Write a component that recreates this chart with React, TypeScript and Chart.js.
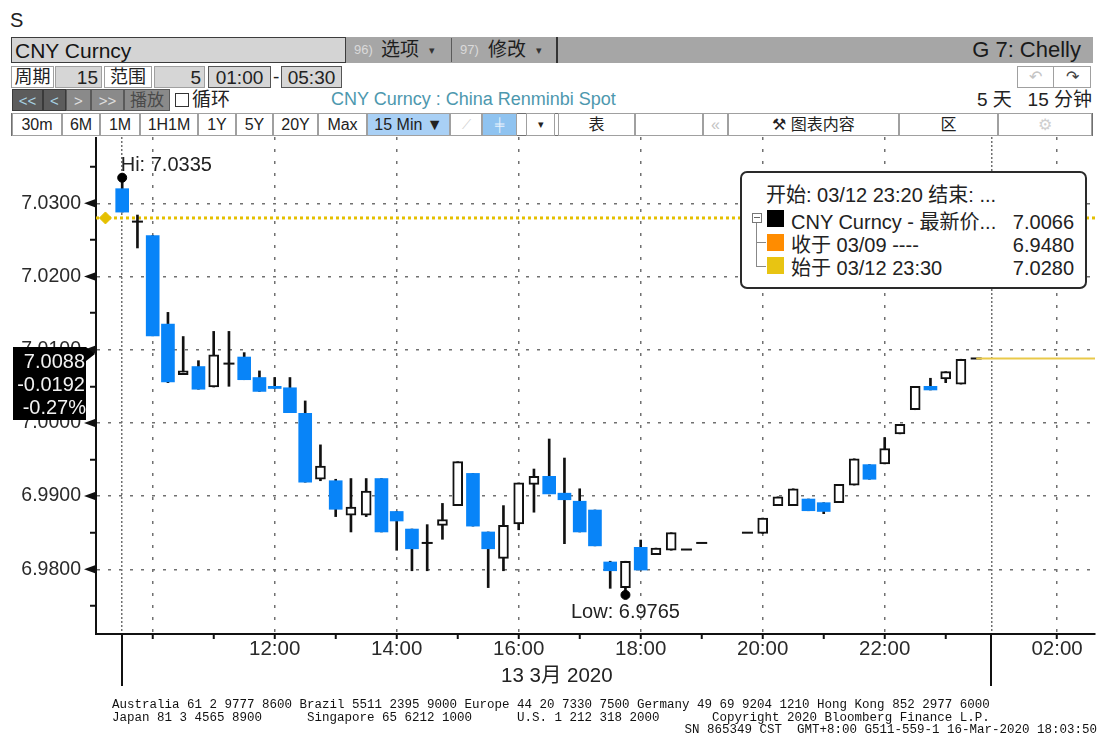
import React, { useEffect, useRef } from "react";
import { Chart, registerables } from "chart.js";

Chart.register(...registerables);

const FONT = '"Liberation Sans", "Noto Sans CJK SC", sans-serif';
const MONO = '"Liberation Mono", "DejaVu Sans Mono", monospace';

// ---- data: 15-minute bars, 13 Mar 2020 ----
const barTimes = [
  "09:30", "09:45", "10:00", "10:15", "10:30", "10:45", "11:00", "11:15", "11:30", "11:45",
  "12:00", "12:15", "12:30", "12:45", "13:00", "13:15", "13:30", "13:45", "14:00", "14:15",
  "14:30", "14:45", "15:00", "15:15", "15:30", "15:45", "16:00", "16:15", "16:30", "16:45",
  "17:00", "17:15", "17:30", "17:45", "18:00", "18:15", "18:30", "18:45", "19:00", "19:15",
  "19:30", "19:45", "20:00", "20:15", "20:30", "20:45", "21:00", "21:15", "21:30", "21:45",
  "22:00", "22:15", "22:30", "22:45", "23:00", "23:15", "23:30",
];
const opens = [
  7.0320, 7.0275, 7.0256, 7.0135, 7.0066, 7.0077, 7.0049, 7.0081, 7.0090, 7.0062,
  7.0050, 7.0048, 7.0013, 6.9923, 6.9921, 6.9874, 6.9874, 6.9924, 6.9879, 6.9855,
  6.9836, 6.9860, 6.9887, 6.9931, 6.9851, 6.9815, 6.9862, 6.9916, 6.9927, 6.9904,
  6.9893, 6.9881, 6.9810, 6.9775, 6.9830, 6.9820, 6.9826, 6.9827, 6.9836, null,
  null, 6.9850, 6.9849, 6.9887, 6.9887, 6.9896, 6.9891, 6.9891, 6.9915, 6.9943,
  6.9944, 6.9985, 7.0018, 7.0050, 7.0060, 7.0053, 7.0088,
];
const highs = [
  7.0335, 7.0284, 7.0256, 7.0151, 7.0118, 7.0085, 7.0125, 7.0125, 7.0096, 7.0071,
  7.0062, 7.0062, 7.0030, 6.9970, 6.9923, 6.9924, 6.9924, 6.9924, 6.9879, 6.9855,
  6.9861, 6.9890, 6.9947, 6.9931, 6.9851, 6.9887, 6.9918, 6.9937, 6.9978, 6.9952,
  6.9910, 6.9881, 6.9811, 6.9811, 6.9840, 6.9829, 6.9850, 6.9827, 6.9836, null,
  null, 6.9850, 6.9870, 6.9899, 6.9910, 6.9896, 6.9891, 6.9916, 6.9951, 6.9943,
  6.9980, 6.9998, 7.0050, 7.0061, 7.0070, 7.0087, 7.0088,
];
const lows = [
  7.0288, 7.0239, 7.0119, 7.0055, 7.0066, 7.0046, 7.0049, 7.0050, 7.0059, 7.0043,
  7.0047, 7.0014, 6.9919, 6.9921, 6.9872, 6.9851, 6.9872, 6.9851, 6.9826, 6.9798,
  6.9798, 6.9841, 6.9887, 6.9859, 6.9775, 6.9798, 6.9854, 6.9878, 6.9903, 6.9835,
  6.9851, 6.9832, 6.9774, 6.9765, 6.9799, 6.9820, 6.9826, 6.9827, 6.9836, null,
  null, 6.9850, 6.9849, 6.9887, 6.9887, 6.9880, 6.9876, 6.9891, 6.9915, 6.9923,
  6.9944, 6.9985, 7.0018, 7.0045, 7.0055, 7.0053, 7.0088,
];
const closes = [
  7.0288, 7.0275, 7.0119, 7.0056, 7.0071, 7.0046, 7.0093, 7.0081, 7.0059, 7.0043,
  7.0047, 7.0014, 6.9919, 6.9941, 6.9882, 6.9885, 6.9907, 6.9851, 6.9866, 6.9828,
  6.9836, 6.9868, 6.9947, 6.9859, 6.9828, 6.9860, 6.9918, 6.9927, 6.9903, 6.9895,
  6.9851, 6.9832, 6.9798, 6.9811, 6.9799, 6.9829, 6.9850, 6.9827, 6.9836, null,
  null, 6.9850, 6.9870, 6.9899, 6.9910, 6.9880, 6.9879, 6.9916, 6.9951, 6.9923,
  6.9965, 6.9998, 7.0050, 7.0045, 7.0070, 7.0087, 7.0088,
];

const HI_VALUE = 7.0335;
const HI_INDEX = 0;
const LOW_VALUE = 6.9765;
const LOW_INDEX = 33;
const START_PRICE = 7.028;
const LAST_PRICE = 7.0088;
const LAST_INDEX = 56;

// axis ticks
const yTickValues = [6.975, 6.98, 6.985, 6.99, 6.995, 7.0, 7.005, 7.01, 7.015, 7.02, 7.025, 7.03, 7.035];
const xTickValues = [0, 2, 6, 10, 14, 18, 22, 26, 30, 34, 38, 42, 46, 50, 54, 57, 61.3];
const xTickLabels = ["", "", "", "12:00", "", "14:00", "", "16:00", "", "18:00", "", "20:00", "", "22:00", "", "", "02:00"];
const xGridValues = [0, 2, 10, 18, 26, 34, 42, 50, 57, 61.3];
const sessionBreaks = [0, 57];
const dateLabel = "13 3月 2020";

const X_MIN = -1.718;
const X_MAX = 63.79;
const Y_MIN = 6.97116;
const Y_MAX = 7.03906;

const isMajor = (v: any) => v != null && Math.abs(Math.round(v * 100) - v * 100) < 1e-6;

const annotationPlugin = {
  id: "bbgAnnotations",
  afterDraw(chart: any) {
    const { ctx, chartArea: a } = chart;
    const xs = chart.scales.x;
    const ys = chart.scales.y;
    ctx.save();
    // axis arrows at labelled values
    ctx.fillStyle = "#111";
    yTickValues.filter(isMajor).forEach((v) => {
      const py = ys.getPixelForValue(v);
      ctx.beginPath();
      ctx.moveTo(a.left - 12, py);
      ctx.lineTo(a.left - 1, py - 4);
      ctx.lineTo(a.left - 1, py + 4);
      ctx.closePath();
      ctx.fill();
    });
    // session separators below axis
    ctx.strokeStyle = "#111";
    ctx.lineWidth = 2;
    sessionBreaks.forEach((v) => {
      const px = Math.round(xs.getPixelForValue(v));
      ctx.beginPath();
      ctx.moveTo(px, a.bottom);
      ctx.lineTo(px, a.bottom + 52);
      ctx.stroke();
    });
    // hi / low labels
    ctx.font = `20px ${FONT}`;
    ctx.fillStyle = "#222";
    ctx.textBaseline = "alphabetic";
    ctx.textAlign = "left";
    ctx.fillText(`Hi: ${HI_VALUE.toFixed(4)}`, xs.getPixelForValue(HI_INDEX) - 1.5, ys.getPixelForValue(HI_VALUE) - 6.5);
    ctx.textAlign = "center";
    ctx.fillText(`Low: ${LOW_VALUE.toFixed(4)}`, xs.getPixelForValue(LOW_INDEX), ys.getPixelForValue(LOW_VALUE) + 23);
    // date label
    ctx.font = `20.5px ${FONT}`;
    ctx.fillText(dateLabel, xs.getPixelForValue((sessionBreaks[0] + sessionBreaks[1]) / 2), a.bottom + 47.5);
    ctx.restore();
  },
};

function CandleChart() {
  const ref = useRef<HTMLCanvasElement | null>(null);
  useEffect(() => {
    if (!ref.current) return;
    const wickData: any[] = [];
    const blueData: any[] = [];
    const whiteData: any[] = [];
    const dojiData: any[] = [];
    barTimes.forEach((_, i) => {
      const o = opens[i], h = highs[i], l = lows[i], c = closes[i];
      if (o == null || h == null || l == null || c == null) return;
      if (h > l) wickData.push({ x: i, y: [l, h] });
      if (c < o) blueData.push({ x: i, y: [c, o] });
      else if (c > o) whiteData.push({ x: i, y: [o, c] });
      else dojiData.push({ x: i, y: c });
    });
    const chart = new Chart(ref.current, {
      type: "bar",
      data: {
        datasets: [
          {
            type: "line",
            data: [{ x: X_MIN, y: START_PRICE }, { x: X_MAX, y: START_PRICE }],
            borderColor: "#e5c000",
            borderWidth: 3,
            borderDash: [3, 3],
            pointRadius: 0,
            order: 9,
          },
          {
            type: "line",
            data: [{ x: -1.1, y: START_PRICE }],
            showLine: false,
            pointStyle: "rectRot",
            pointRadius: 6,
            pointBackgroundColor: "#e5c000",
            pointBorderColor: "#e5c000",
            order: 8,
          },
          {
            type: "bar",
            data: wickData,
            backgroundColor: "#111",
            barThickness: 2,
            grouped: false,
            order: 5,
          },
          {
            type: "bar",
            data: blueData,
            backgroundColor: "#0884f8",
            barThickness: 13,
            grouped: false,
            order: 4,
          },
          {
            type: "bar",
            data: whiteData,
            backgroundColor: "#ffffff",
            borderColor: "#111",
            borderWidth: 2,
            borderSkipped: false,
            barThickness: 10,
            grouped: false,
            order: 3,
          },
          {
            type: "line",
            data: dojiData,
            showLine: false,
            pointStyle: "line",
            pointRadius: 5.5,
            pointBorderWidth: 2,
            pointBorderColor: "#111",
            pointBackgroundColor: "#111",
            order: 2,
          },
          {
            type: "line",
            data: [{ x: LAST_INDEX, y: LAST_PRICE }, { x: X_MAX, y: LAST_PRICE }],
            borderColor: "#e9c94a",
            borderWidth: 2,
            pointRadius: 0,
            order: 1,
          },
          {
            type: "line",
            data: [{ x: HI_INDEX, y: HI_VALUE }, { x: LOW_INDEX, y: LOW_VALUE }],
            showLine: false,
            pointRadius: 4.5,
            pointBorderWidth: 1,
            pointBackgroundColor: "#000",
            pointBorderColor: "#000",
            order: 0,
          },
        ],
      } as any,
      options: {
        responsive: false,
        animation: false,
        devicePixelRatio: 1,
        events: [],
        layout: { autoPadding: false, padding: { left: 0, right: 4, top: 0, bottom: 0 } },
        plugins: { legend: { display: false }, tooltip: { enabled: false } },
        scales: {
          x: {
            type: "linear",
            min: X_MIN,
            max: X_MAX,
            offset: false,
            grid: {
              offset: false,
              color: (c: any) => (c.tick && xGridValues.includes(c.tick.value) ? "#707070" : "rgba(0,0,0,0)"),
              lineWidth: 1.5,
              tickLength: 5,
              tickWidth: 2,
              tickColor: (c: any) => (c.tick && sessionBreaks.includes(c.tick.value) ? "rgba(0,0,0,0)" : "#111"),
            },
            border: {
              display: true,
              color: "#111",
              width: 2,
              dash: (c: any) => (c.tick && sessionBreaks.includes(c.tick.value) ? [2, 2] : [3, 9]),
            },
            ticks: {
              autoSkip: false,
              maxRotation: 0,
              minRotation: 0,
              padding: 0,
              color: "#2a2a2a",
              font: { family: FONT, size: 20.5, lineHeight: 1 },
              callback: (_v: any, i: number) => xTickLabels[i] ?? "",
            },
            afterBuildTicks: (s: any) => {
              s.ticks = xTickValues.map((v) => ({ value: v }));
            },
            afterFit: (s: any) => {
              s.height = 66;
              s.paddingLeft = 0;
              s.paddingRight = 0;
            },
          },
          y: {
            type: "linear",
            position: "left",
            min: Y_MIN,
            max: Y_MAX,
            grid: {
              color: (c: any) => (c.tick && isMajor(c.tick.value) ? "#707070" : "rgba(0,0,0,0)"),
              lineWidth: 1.5,
              tickLength: 6,
              tickWidth: 2,
              tickColor: "#111",
            },
            border: { display: true, color: "#111", width: 2, dash: [3, 8] },
            ticks: {
              autoSkip: false,
              padding: 9,
              color: "#2a2a2a",
              font: { family: FONT, size: 19.5 },
              callback: (v: any) => (isMajor(v) ? Number(v).toFixed(4) : ""),
            },
            afterBuildTicks: (s: any) => {
              s.ticks = yTickValues.map((v) => ({ value: v }));
            },
            afterFit: (s: any) => {
              s.width = 96;
              s.paddingTop = 0;
              s.paddingBottom = 0;
            },
          },
        },
      } as any,
      plugins: [annotationPlugin],
    });
    return () => chart.destroy();
  }, []);
  return (
    <canvas
      ref={ref}
      width={1099}
      height={563}
      style={{ position: "absolute", left: 0, top: 137, width: 1099, height: 563 }}
    />
  );
}

function T({ x, y, text, size = 20, color = "#222", align = "left", w = 300, family = FONT }: any) {
  const style: any = {
    position: "absolute",
    top: y - size * 0.6,
    height: size * 1.2,
    lineHeight: `${size * 1.2}px`,
    fontSize: size,
    color,
    fontFamily: family,
    whiteSpace: "pre",
  };
  if (align === "left") style.left = x;
  else if (align === "right") {
    style.left = x - w;
    style.width = w;
    style.textAlign = "right";
  } else {
    style.left = x - w / 2;
    style.width = w;
    style.textAlign = "center";
  }
  return <div style={style}>{text}</div>;
}

function Cell({ l, t, w, h, bg = "#fff", border = "1px solid #a0a0a0", children, align = "center", size = 16, color = "#222", pad = 0 }: any) {
  return (
    <div
      style={{
        position: "absolute",
        left: l,
        top: t,
        width: w,
        height: h,
        background: bg,
        border,
        boxSizing: "border-box",
        display: "flex",
        alignItems: "center",
        justifyContent: align === "center" ? "center" : align === "right" ? "flex-end" : "flex-start",
        fontSize: size,
        color,
        padding: `0 ${pad}px`,
        whiteSpace: "pre",
        overflow: "hidden",
        lineHeight: 1,
      }}
    >
      {children}
    </div>
  );
}

function Header() {
  const r4 = [
    [12, 62, "30m"], [62, 100, "6M"], [100, 140, "1M"], [140, 198, "1H1M"], [198, 236, "1Y"],
    [236, 273, "5Y"], [273, 318, "20Y"], [318, 367, "Max"],
  ];
  return (
    <>
      <T x={10} y={20} text="S" size={20} />
      {/* row 1 */}
      <div style={{ position: "absolute", left: 345, top: 37, width: 748, height: 26, background: "#a6a6a6" }} />
      <Cell l={11} t={37} w={335} h={26} bg="#d4d4d4" border="1px solid #3c3c3c" align="left" pad={3} size={21} color="#151515">
        CNY Curncy
      </Cell>
      <T x={354} y={50} text="96)" size={13} color="#dadada" />
      <T x={381} y={50} text="选项" size={19} color="#1e1e1e" />
      <T x={429} y={51} text="▾" size={11} color="#333" />
      <div style={{ position: "absolute", left: 451, top: 38, width: 1, height: 24, background: "#5a5a5a" }} />
      <T x={460} y={50} text="97)" size={13} color="#dadada" />
      <T x={488} y={50} text="修改" size={19} color="#1e1e1e" />
      <T x={536} y={51} text="▾" size={11} color="#333" />
      <div style={{ position: "absolute", left: 556, top: 37, width: 2, height: 26, background: "#333" }} />
      <T x={1081} y={50} text="G 7: Chelly" size={22} color="#1a1a1a" align="right" w={200} />
      {/* row 2 */}
      <Cell l={11} t={66} w={43} h={22} size={18}>周期</Cell>
      <Cell l={55} t={66} w={47} h={22} bg="#d6d6d6" align="right" pad={3} size={19}>15</Cell>
      <Cell l={104} t={66} w={48} h={22} size={18}>范围</Cell>
      <Cell l={154} t={66} w={51} h={22} bg="#d6d6d6" align="right" pad={3} size={19}>5</Cell>
      <Cell l={208} t={66} w={63} h={22} bg="#d6d6d6" border="1px solid #555" size={19}>01:00</Cell>
      <T x={273} y={77} text="-" size={19} />
      <Cell l={281} t={66} w={61} h={22} bg="#d6d6d6" border="1px solid #555" size={19}>05:30</Cell>
      <Cell l={1017} t={66} w={37} h={22} color="#c4c4c4" size={16}>↶</Cell>
      <Cell l={1053} t={66} w={38} h={22} color="#444" size={16}>↷</Cell>
      {/* row 3 */}
      <Cell l={12} t={89} w={31} h={22} bg="#5c5c5c" border="1px solid #3a3a3a" color="#a9d4e4" size={15}>{"<<"}</Cell>
      <Cell l={43} t={89} w={23} h={22} bg="#5c5c5c" border="1px solid #3a3a3a" color="#a9d4e4" size={15}>{"<"}</Cell>
      <Cell l={66} t={89} w={25} h={22} bg="#8a8a8a" border="1px solid #5a5a5a" color="#e0e0e0" size={15}>{">"}</Cell>
      <Cell l={91} t={89} w={33} h={22} bg="#8a8a8a" border="1px solid #5a5a5a" color="#e0e0e0" size={15}>{">>"}</Cell>
      <Cell l={124} t={89} w={46} h={22} bg="#8a8a8a" border="1px solid #5a5a5a" color="#4a4a4a" size={17}>播放</Cell>
      <div style={{ position: "absolute", left: 175, top: 93, width: 14, height: 14, border: "1.5px solid #333", boxSizing: "border-box", background: "#fff" }} />
      <T x={192} y={100} text="循环" size={19} />
      <T x={331} y={100} text="CNY Curncy : China Renminbi Spot" size={18} color="#4d98ae" />
      <T x={1092} y={100} text={"5 天   15 分钟"} size={19} align="right" w={200} />
      {/* row 4 */}
      <div style={{ position: "absolute", left: 11, top: 113, width: 1082, height: 23, border: "1px solid #707070", boxSizing: "border-box", background: "#fff" }} />
      {r4.map(([l, r, txt]: any) => (
        <Cell key={txt} l={l} t={113} w={r - l} h={23} size={16}>{txt}</Cell>
      ))}
      <Cell l={367} t={113} w={83} h={23} bg="#a9d0f5" size={16}>15 Min ▼</Cell>
      <Cell l={450} t={113} w={32} h={23} color="#d0d0d0" size={13}>⟋</Cell>
      <Cell l={482} t={113} w={35} h={23} bg="#8fc3f0" color="#e8f2fc" size={13}>╪</Cell>
      <Cell l={526} t={113} w={29} h={23} size={11}>▾</Cell>
      <Cell l={558} t={113} w={77} h={23} size={16}>表</Cell>
      <Cell l={635} t={113} w={68} h={23}>{""}</Cell>
      <Cell l={703} t={113} w={25} h={23} color="#c4c4c4" size={16}>«</Cell>
      <Cell l={728} t={113} w={171} h={23} size={16}>{"⚒ 图表内容"}</Cell>
      <Cell l={899} t={113} w={99} h={23} size={16}>区</Cell>
      <Cell l={998} t={113} w={94} h={23} color="#cfcfcf" size={16}>⚙</Cell>
    </>
  );
}

function PriceTag() {
  return (
    <>
      <div style={{ position: "absolute", left: 13, top: 347, width: 73, height: 73, background: "#000" }} />
      <div
        style={{
          position: "absolute",
          left: 86,
          top: 347,
          width: 0,
          height: 0,
          borderTop: "7px solid transparent",
          borderBottom: "7px solid transparent",
          borderLeft: "9px solid #000",
        }}
      />
      <T x={85} y={361} text="7.0088" size={20} color="#f2f2f2" align="right" w={72} />
      <T x={85} y={384} text="-0.0192" size={20} color="#f2f2f2" align="right" w={72} />
      <T x={86} y={407} text="-0.27%" size={20} color="#f2f2f2" align="right" w={72} />
    </>
  );
}

function LegendBox() {
  return (
    <>
      <div
        style={{
          position: "absolute",
          left: 740,
          top: 171,
          width: 347,
          height: 118,
          border: "2px solid #2a2a2a",
          borderRadius: 7,
          boxSizing: "border-box",
          background: "#fff",
        }}
      />
      <T x={766} y={195} text="开始: 03/12 23:20 结束: ..." size={20} />
      <div style={{ position: "absolute", left: 752, top: 213, width: 10, height: 10, border: "1px solid #777", boxSizing: "border-box", background: "#fff" }} />
      <div style={{ position: "absolute", left: 754, top: 217, width: 6, height: 1, background: "#666" }} />
      <div style={{ position: "absolute", left: 756, top: 223, width: 1, height: 44, background: "#888" }} />
      <div style={{ position: "absolute", left: 756, top: 242, width: 10, height: 1, background: "#888" }} />
      <div style={{ position: "absolute", left: 756, top: 266, width: 10, height: 1, background: "#888" }} />
      <div style={{ position: "absolute", left: 767, top: 210, width: 17, height: 17, background: "#000" }} />
      <div style={{ position: "absolute", left: 767, top: 234, width: 17, height: 17, background: "#ff8c00" }} />
      <div style={{ position: "absolute", left: 767, top: 257, width: 17, height: 17, background: "#e8c412" }} />
      <T x={791} y={221.5} text="CNY Curncy - 最新价..." size={20} />
      <T x={791} y={245} text="收于 03/09 ----" size={20} />
      <T x={791} y={267.5} text="始于 03/12 23:30" size={20} />
      <T x={1074} y={221.5} text="7.0066" size={20} align="right" w={90} />
      <T x={1074} y={245} text="6.9480" size={20} align="right" w={90} />
      <T x={1074} y={267.5} text="7.0280" size={20} align="right" w={90} />
    </>
  );
}

function Footer() {
  const st: any = { position: "absolute", fontFamily: MONO, fontSize: 12.5, lineHeight: "12.5px", color: "#111", whiteSpace: "pre" };
  return (
    <>
      <div style={{ ...st, left: 112, top: 699 }}>
        Australia 61 2 9777 8600 Brazil 5511 2395 9000 Europe 44 20 7330 7500 Germany 49 69 9204 1210 Hong Kong 852 2977 6000
      </div>
      <div style={{ ...st, left: 112, top: 711.5 }}>
        {"Japan 81 3 4565 8900      Singapore 65 6212 1000      U.S. 1 212 318 2000       Copyright 2020 Bloomberg Finance L.P."}
      </div>
      <div style={{ ...st, left: 597, width: 500, textAlign: "right", top: 724 }}>
        {"SN 865349 CST  GMT+8:00 G511-559-1 16-Mar-2020 18:03:50"}
      </div>
    </>
  );
}

export default function App() {
  return (
    <div
      style={{
        position: "absolute",
        left: 0,
        top: 0,
        width: 1099,
        height: 738,
        background: "#fff",
        overflow: "hidden",
        fontFamily: FONT,
      }}
    >
      <Header />
      <CandleChart />
      <PriceTag />
      <LegendBox />
      <Footer />
    </div>
  );
}
